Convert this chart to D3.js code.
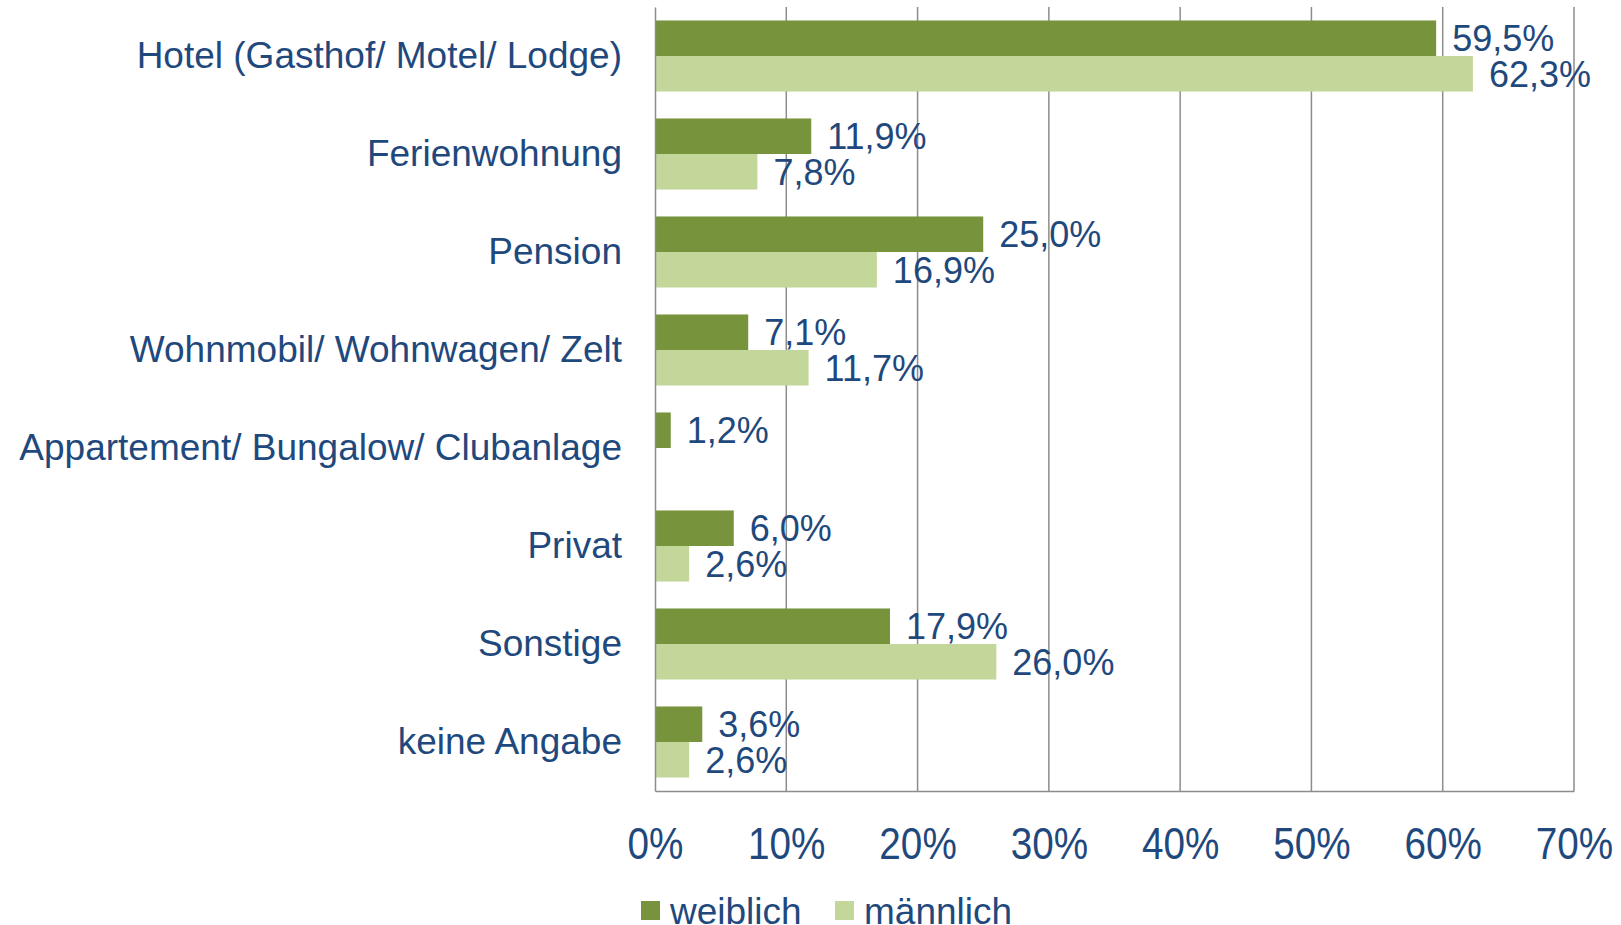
<!DOCTYPE html>
<html>
<head>
<meta charset="utf-8">
<script src="https://cdn.jsdelivr.net/npm/d3@7"></script>
<style>
  body { margin: 0; background: #fff; }
  text { font-family: "Liberation Sans", Arial, sans-serif; fill: #1F497D; }
</style>
</head>
<body>
<script>
// Categories and values (percent)
var categories = [
  "Hotel (Gasthof/ Motel/ Lodge)",
  "Ferienwohnung",
  "Pension",
  "Wohnmobil/ Wohnwagen/ Zelt",
  "Appartement/ Bungalow/ Clubanlage",
  "Privat",
  "Sonstige",
  "keine Angabe"
];
var weiblich = [59.5, 11.9, 25.0, 7.1, 1.2, 6.0, 17.9, 3.6];
var maennlich = [62.3, 7.8, 16.9, 11.7, null, 2.6, 26.0, 2.6];
var seriesNames = ["weiblich", "männlich"];
var xTicks = [0, 10, 20, 30, 40, 50, 60, 70];

var colors = ["#77933C", "#C4D79B"];

var svgWidth = 1621;
var svgHeight = 925;

// Plot area
var plot = { left: 655, right: 1574, top: 7, bottom: 791 };

var svg = d3.select("body")
  .append("svg")
  .attr("width", svgWidth)
  .attr("height", svgHeight);

var xScale = d3.scaleLinear()
  .domain([0, 70])
  .range([plot.left, plot.right]);

var yScale = d3.scaleBand()
  .domain(categories)
  .range([plot.top, plot.bottom])
  .paddingInner(0.275)
  .paddingOuter(0.1375);

var subScale = d3.scaleBand()
  .domain(seriesNames)
  .range([0, yScale.bandwidth()]);

// Gridlines
svg.append("g")
  .selectAll("line")
  .data(xTicks.slice(1))
  .enter()
  .append("line")
  .attr("x1", d => xScale(d))
  .attr("x2", d => xScale(d))
  .attr("y1", plot.top)
  .attr("y2", plot.bottom)
  .attr("stroke", "#8C8C8C")
  .attr("stroke-width", 1.5);

// Rows of data, one per category
var rows = categories.map((c, i) => ({
  name: c,
  values: [
    { key: "weiblich", value: weiblich[i] },
    { key: "männlich", value: maennlich[i] }
  ].filter(v => v.value !== null)
}));

var groups = svg.append("g")
  .selectAll("g")
  .data(rows)
  .enter()
  .append("g")
  .attr("transform", d => `translate(0, ${yScale(d.name)})`);

groups.selectAll("rect")
  .data(d => d.values)
  .enter()
  .append("rect")
  .attr("x", xScale(0))
  .attr("y", d => subScale(d.key))
  .attr("width", d => xScale(d.value) - xScale(0))
  .attr("height", subScale.bandwidth())
  .attr("fill", d => colors[seriesNames.indexOf(d.key)]);

groups.selectAll("text")
  .data(d => d.values)
  .enter()
  .append("text")
  .attr("x", d => xScale(d.value) + 16)
  .attr("y", d => subScale(d.key) + subScale.bandwidth() / 2)
  .attr("dy", "0.36em")
  .style("font-size", "36px")
  .text(d => d3.format(".1f")(d.value).replace(".", ",") + "%");

// Left axis (category labels)
var yAxis = svg.append("g")
  .attr("transform", `translate(${plot.left}, 0)`)
  .call(d3.axisLeft(yScale).tickSize(0).tickPadding(33));
yAxis.select(".domain").attr("stroke", "#8C8C8C").attr("stroke-width", 1.5);
yAxis.selectAll("text")
  .style("font-size", "37px")
  .style("fill", "#1F497D");

// Bottom axis
var xAxis = svg.append("g")
  .attr("transform", `translate(0, ${plot.bottom})`)
  .call(d3.axisBottom(xScale).tickValues(xTicks).tickSize(0).tickPadding(36)
    .tickFormat(d => d + "%"));
xAxis.select(".domain").attr("stroke", "#8C8C8C").attr("stroke-width", 1.5);
xAxis.selectAll("text")
  .style("font-size", "45px")
  .style("fill", "#1F497D")
  .attr("transform", "scale(0.86,1)");

// Legend
var legendItems = [
  { name: "weiblich", x: 641 },
  { name: "männlich", x: 835 }
];
var legend = svg.append("g")
  .selectAll("g")
  .data(legendItems)
  .enter()
  .append("g")
  .attr("transform", d => `translate(${d.x}, 901)`);

legend.append("rect")
  .attr("width", 19)
  .attr("height", 19)
  .attr("fill", (d, i) => colors[i]);

legend.append("text")
  .attr("x", 29)
  .attr("y", 10)
  .attr("dy", "0.36em")
  .style("font-size", "37px")
  .text(d => d.name);
</script>
</body>
</html>
